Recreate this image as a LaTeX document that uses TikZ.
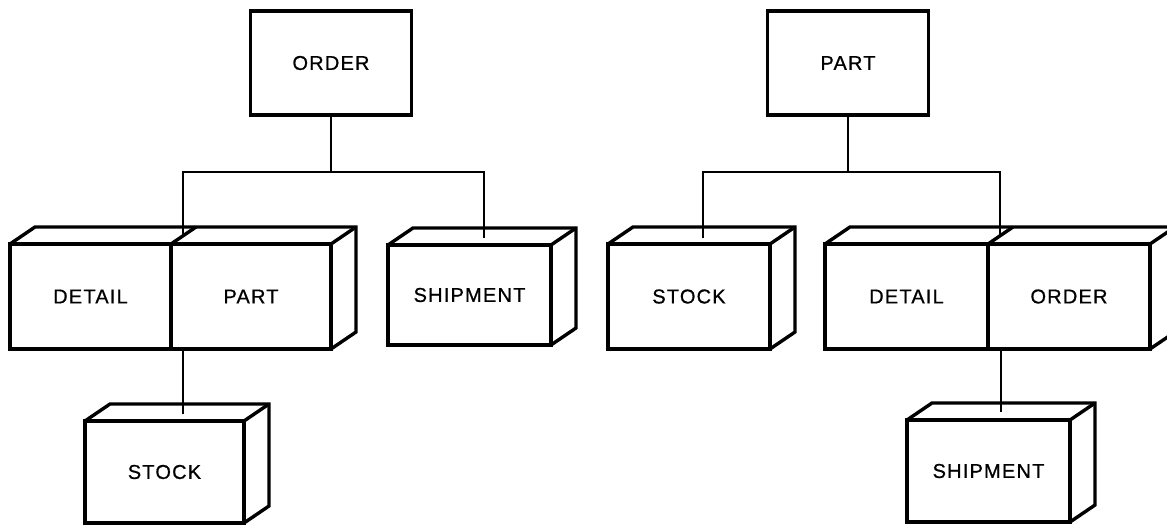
\documentclass[tikz,border=0pt]{standalone}
\usepackage{fontspec}
\setmainfont{Liberation Sans}[LetterSpace=6,FakeBold=0.8]
\usetikzlibrary{calc}
\tikzset{
  face/.style={draw, line width=3.4pt, inner sep=0pt, outer sep=0pt, fill=white,
    font=\fontsize{20}{23}\selectfont, minimum width=161, minimum height=105},
  edge/.style={line width=3.4pt, line join=miter},
  conn/.style={line width=2.7pt},
}
\newcommand\depthof[2]{%
  \draw[edge] (#1.north west) -- ++(25,-17) -- ($(#2.north east)+(25,-17)$)
    -- ($(#2.south east)+(25,-17)$) -- (#2.south east);
  \draw[edge] (#2.north east) -- ++(25,-17);}
\newcommand\divtop[1]{\draw[edge] (#1.north east) -- ++(25,-17);}
\begin{document}
\begin{tikzpicture}[x=1pt,y=-1pt]
\useasboundingbox (0,0) rectangle (1167,525);
\coordinate (hl) at (0,172);
% ---------- left tree ----------
\node[face, minimum height=104] (orderA) at (331,63) {ORDER};
\node[face] (detailA) at (90.5,296.5) {DETAIL};
\node[face, minimum width=160] (partA) at (251,296.5) {PART};
\node[face, minimum width=163, minimum height=100] (shipA) at (469.5,295) {SHIPMENT};
\node[face, minimum width=159, minimum height=102] (stockA) at (164.5,472) {STOCK};
\depthof{detailA}{partA}
\divtop{detailA}
\depthof{shipA}{shipA}
\depthof{stockA}{stockA}
\coordinate (a1) at (183,237);
\coordinate (a2) at (484,238);
\coordinate (a3) at (183,414);
\draw[conn] (orderA.south) -- (orderA.south |- hl);
\draw[conn] (a1) -- (a1 |- hl) -- (a2 |- hl) -- (a2);
\draw[conn] (a3 |- partA.south) -- (a3);
% ---------- right tree ----------
\node[face, minimum height=104] (partB) at (848,63) {PART};
\node[face, minimum width=162] (stockB) at (689,296.5) {STOCK};
\node[face, minimum width=163] (detailB) at (906.5,296.5) {DETAIL};
\node[face, minimum width=162] (orderB) at (1069,296.5) {ORDER};
\node[face, minimum width=163, minimum height=102] (shipB) at (988.5,471) {SHIPMENT};
\depthof{stockB}{stockB}
\depthof{detailB}{orderB}
\divtop{detailB}
\depthof{shipB}{shipB}
\coordinate (b1) at (703,238);
\coordinate (b2) at (1000,237);
\coordinate (b3) at (1001,412);
\draw[conn] (partB.south) -- (partB.south |- hl);
\draw[conn] (b1) -- (b1 |- hl) -- (b2 |- hl) -- (b2);
\draw[conn] (b3 |- orderB.south) -- (b3);
\end{tikzpicture}
\end{document}
